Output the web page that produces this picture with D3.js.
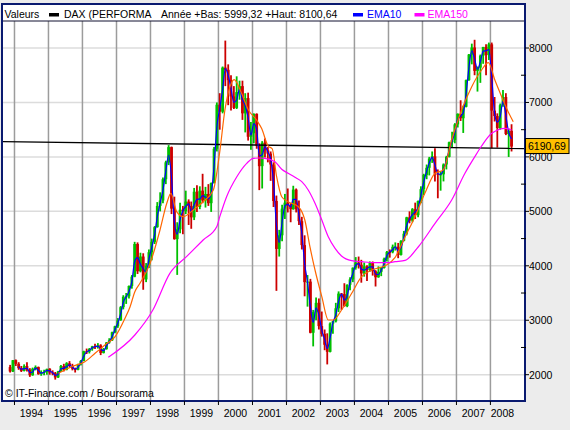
<!DOCTYPE html>
<html>
<head>
<meta charset="utf-8">
<script src="https://cdn.jsdelivr.net/npm/d3@7"></script>
<style>
  body { margin: 0; background: #ececec; }
  svg { display: block; font-family: Arial, "Liberation Sans", sans-serif; }
</style>
</head>
<body>
<div id="chart"></div>
<script>
// monthly bars, starting November 1993
var firstMonth = "1993-11";
var opens = [
    2140, 2060,
    2267, 2200, 2120, 2070, 2160, 2090, 1990, 2110, 2140, 2010, 2040, 2050,
    2107, 2040, 2030, 1950, 2060, 2160, 2090, 2210, 2160, 2110, 2090, 2190,
    2254, 2430, 2420, 2470, 2520, 2510, 2540, 2400, 2470, 2590, 2630, 2780,
    2889, 3000, 3240, 3430, 3440, 3630, 3800, 4400, 3900, 4170, 3750, 4000,
    4250, 4440, 4710, 5100, 5200, 5590, 5900, 6180, 5050, 4490, 4670, 5030,
    5002, 5180, 5100, 4890, 5360, 5080, 5380, 5200, 5320, 5150, 5520, 6150,
    6958, 6830, 7640, 7600, 7410, 7110, 6900, 7190, 7300, 6800, 7080, 6370,
    6434, 6790, 6210, 5830, 6260, 6120, 6060, 5860, 5190, 4310, 4560, 5050,
    5160, 5110, 5040, 5400, 5040, 4820, 4380, 3700, 3710, 2770, 3150, 3320,
    2893, 2750, 2550, 2420, 2940, 2980, 3220, 3490, 3480, 3260, 3650, 3750,
    3965, 4060, 4020, 3860, 3990, 3920, 4050, 3900, 3790, 3890, 3960, 4130,
    4256, 4250, 4350, 4350, 4200, 4460, 4590, 4890, 4830, 5040, 4930, 5190,
    5408, 5670, 5800, 5970, 6010, 5690, 5680, 5680, 5860, 6000, 6270, 6310,
    6597, 6790, 6710, 6920, 7410, 7880, 8010, 7580, 7640, 7860, 8020, 7870,
    8067, 6850, 6750, 6530, 6950, 7100, 6420, 6480
];
var highs = [
    2180, 2270,
    2280, 2230, 2160, 2190, 2230, 2120, 2130, 2170, 2150, 2080, 2090, 2110,
    2120, 2080, 2050, 2070, 2180, 2200, 2230, 2250, 2200, 2130, 2200, 2270,
    2440, 2480, 2490, 2530, 2570, 2580, 2560, 2490, 2600, 2670, 2790, 2900,
    3040, 3260, 3460, 3500, 3640, 3830, 4440, 4430, 4240, 4230, 4050, 4300,
    4500, 4730, 5170, 5350, 5620, 5930, 6217, 6190, 5270, 4800, 5160, 5100,
    5380, 5220, 5180, 5430, 5480, 5460, 5690, 5450, 5500, 5530, 6180, 7000,
    7170, 7660, 8136, 7700, 7500, 7300, 7480, 7400, 7400, 7170, 7180, 6640,
    6800, 6800, 6250, 6290, 6340, 6180, 6100, 5900, 5290, 4660, 5120, 5320,
    5420, 5150, 5470, 5420, 5200, 4900, 4560, 3830, 3760, 3190, 3420, 3400,
    3160, 2830, 2760, 2960, 2990, 3320, 3530, 3500, 3680, 3660, 3790, 3970,
    4160, 4170, 4110, 4060, 4010, 4080, 4080, 3920, 3990, 3980, 4150, 4270,
    4300, 4390, 4430, 4420, 4470, 4640, 4900, 5000, 5060, 5160, 5200, 5460,
    5690, 5860, 6000, 6100, 6160, 5770, 5740, 5880, 6020, 6280, 6460, 6620,
    6800, 7040, 6940, 7420, 7890, 8080, 8151, 7660, 7880, 8020, 8070, 8100,
    8100, 7100, 6800, 6980, 7230, 7170, 6520, 6600
];
var lows = [
    2040, 2050,
    2160, 2090, 2050, 2060, 2060, 1960, 1980, 2080, 2000, 1980, 1990, 2000,
    2000, 1990, 1910, 1940, 2050, 2060, 2080, 2130, 2080, 2040, 2080, 2170,
    2250, 2380, 2390, 2440, 2470, 2480, 2360, 2390, 2460, 2570, 2620, 2760,
    2860, 2990, 3200, 3300, 3400, 3580, 3790, 3850, 3880, 3560, 3700, 3960,
    4100, 4400, 4700, 5000, 5150, 5500, 5850, 4950, 4480, 3833, 4600, 4580,
    4950, 4750, 4680, 4840, 4990, 5040, 5150, 5070, 5100, 4990, 5510, 6100,
    6500, 6800, 7300, 6950, 6850, 6880, 6880, 7050, 6680, 6450, 6300, 6130,
    6250, 6150, 5390, 5420, 5990, 5900, 5560, 5080, 3540, 4170, 4450, 4860,
    4980, 4800, 5030, 4980, 4750, 4300, 3440, 3250, 2760, 2520, 3000, 2830,
    2700, 2450, 2189, 2410, 2750, 2960, 3150, 3190, 3250, 3240, 3550, 3700,
    3930, 3950, 3690, 3800, 3720, 3890, 3820, 3620, 3780, 3810, 3950, 4080,
    4150, 4230, 4280, 4140, 4190, 4450, 4560, 4780, 4800, 4860, 4890, 5150,
    5300, 5590, 5660, 5890, 5550, 5240, 5380, 5550, 5770, 5990, 6170, 6250,
    6540, 6660, 6440, 6910, 7400, 7700, 7500, 7200, 7360, 7710, 7500, 7780,
    6160, 6650, 6170, 6500, 6920, 6400, 5999, 6100
];
var closes = [
    2060, 2267,
    2200, 2120, 2070, 2160, 2090, 1990, 2110, 2140, 2010, 2040, 2050, 2107,
    2040, 2030, 1950, 2060, 2160, 2090, 2210, 2160, 2110, 2090, 2190, 2254,
    2430, 2420, 2470, 2520, 2510, 2540, 2400, 2470, 2590, 2630, 2780, 2889,
    3000, 3240, 3430, 3440, 3630, 3800, 4400, 3900, 4170, 3750, 4000, 4250,
    4440, 4710, 5100, 5200, 5590, 5900, 6180, 5050, 4490, 4670, 5030, 5002,
    5180, 5100, 4890, 5360, 5080, 5380, 5200, 5320, 5150, 5520, 6150, 6958,
    6830, 7640, 7600, 7410, 7110, 6900, 7190, 7300, 6800, 7080, 6370, 6434,
    6790, 6210, 5830, 6260, 6120, 6060, 5860, 5190, 4310, 4560, 5050, 5160,
    5110, 5040, 5400, 5040, 4820, 4380, 3700, 3710, 2770, 3150, 3320, 2893,
    2750, 2550, 2420, 2940, 2980, 3220, 3490, 3480, 3260, 3650, 3750, 3965,
    4060, 4020, 3860, 3990, 3920, 4050, 3900, 3790, 3890, 3960, 4130, 4256,
    4250, 4350, 4350, 4200, 4460, 4590, 4890, 4830, 5040, 4930, 5190, 5408,
    5670, 5800, 5970, 6010, 5690, 5680, 5680, 5860, 6000, 6270, 6310, 6597,
    6790, 6710, 6920, 7410, 7880, 8010, 7580, 7640, 7860, 8020, 7870, 8067,
    6850, 6750, 6530, 6950, 7100, 6420, 6480, 6190.69
];
// EMA10 read per month (same months as the bars)
var ema10 = [
    null, null,
    null, 2150, 2100, 2110, 2120, 2040, 2050, 2120, 2080, 2030, 2045, 2080,
    2070, 2035, 1990, 2010, 2110, 2120, 2150, 2180, 2135, 2100, 2140, 2220,
    2340, 2420, 2445, 2495, 2515, 2525, 2470, 2440, 2530, 2610, 2700, 2830,
    2950, 3120, 3330, 3430, 3530, 3710, 4080, 4150, 4030, 3950, 3880, 4120,
    4340, 4580, 4900, 5150, 5390, 5740, 6030, 5620, 4800, 4580, 4850, 5010,
    5090, 5140, 4990, 5120, 5220, 5230, 5290, 5260, 5230, 5330, 5830, 6550,
    6890, 7240, 7620, 7500, 7260, 7000, 7050, 7240, 7050, 6940, 6720, 6400,
    6610, 6500, 6020, 6040, 6190, 6090, 5960, 5530, 4750, 4430, 4800, 5100,
    5130, 5080, 5220, 5220, 4930, 4600, 4040, 3700, 3240, 2960, 3230, 3100,
    2820, 2650, 2480, 2680, 2960, 3100, 3350, 3480, 3370, 3450, 3700, 3860,
    4010, 4040, 3940, 3920, 3950, 3980, 3980, 3850, 3840, 3920, 4040, 4190,
    4250, 4300, 4350, 4280, 4330, 4520, 4740, 4860, 4940, 4990, 5060, 5300,
    5540, 5740, 5890, 5990, 5850, 5690, 5680, 5770, 5930, 6130, 6290, 6450,
    6690, 6750, 6810, 7160, 7640, 7950, 7800, 7610, 7750, 7940, 7950, 7970,
    7460, 6800, 6640, 6740, 7020, 6760, 6450, 6330
];
// slower orange average, read at decimal years
var orangeYears = [1995.29, 1995.68, 1996.07, 1996.37, 1996.66, 1996.96, 1997.25, 1997.40, 1997.54, 1997.69,
    1997.99, 1998.28, 1998.48, 1998.60, 1998.77, 1998.96, 1999.26, 1999.55, 1999.85, 2000.04,
    2000.19, 2000.34, 2000.46, 2000.68, 2000.88, 2001.12, 2001.27, 2001.46, 2001.58, 2001.71,
    2001.86, 2002.05, 2002.35, 2002.54, 2002.69, 2002.84, 2003.04, 2003.23, 2003.38, 2003.62,
    2003.92, 2004.21, 2004.51, 2004.90, 2005.19, 2005.49, 2005.78, 2006.07, 2006.37, 2006.61,
    2006.86, 2007.15, 2007.45, 2007.74, 2007.94, 2008.13, 2008.33, 2008.52, 2008.67];
var orangeValues = [2026, 2147, 2239, 2393, 2545, 2698, 3036, 3249, 3524, 3679,
    4046, 4658, 5148, 5331, 4994, 4902, 5025, 5177, 5392, 6100,
    6861, 7290, 7420, 7168, 6861, 6678, 6520, 6200, 6150, 5636,
    5269, 5177, 5085, 4841, 4351, 3923, 3433, 3005, 3005, 3188,
    3495, 3800, 3923, 4000, 4150, 4534, 4902, 5331, 5699, 5760,
    6310, 6861, 7290, 7596, 7730, 7412, 7106, 6830, 6647];
// EMA150 read at decimal years
var ema150Years = [1996.76, 1997.54, 1998.07, 1998.57, 1999.06, 1999.55, 1999.95, 2000.04, 2000.24, 2000.54,
    2000.83, 2001.02, 2001.22, 2001.37, 2001.66, 2001.86, 2002.05, 2002.25, 2002.45, 2002.64,
    2002.84, 2003.04, 2003.23, 2003.43, 2003.62, 2003.92, 2004.21, 2004.60, 2004.99, 2005.19,
    2005.49, 2005.88, 2006.37, 2006.86, 2007.25, 2007.54, 2007.74, 2008.04, 2008.43, 2008.62];
var ema150Values = [2320, 2729, 3188, 3862, 4168, 4474, 4718, 4902, 5269, 5636,
    5882, 5974, 5980, 5974, 5912, 5772, 5699, 5625, 5545, 5392,
    5148, 4841, 4534, 4321, 4180, 4094, 4075, 4057, 4057, 4075,
    4100, 4350, 4780, 5208, 5699, 6004, 6200, 6433, 6525, 6494];
// drawn black line
var lineYears = [1993.66, 2009.02];
var lineValues = [6279, 6154];

var yearLabels = d3.range(1994, 2009);
var priceTicks = d3.range(2000, 8001, 1000);
var minorTicks = d3.range(2500, 8001, 1000);
var lastClose = "6190,69";

// size of the picture
var vWidth = 570, vHeight = 430;
var plot = { left: 3, right: 525, top: 21, bottom: 401 };

function yearToDate(aYear) {
    var vY = Math.floor(aYear);
    var vStart = new Date(vY, 0, 1), vEnd = new Date(vY + 1, 0, 1);
    return new Date(+vStart + (aYear - vY) * (vEnd - vStart));
}

var svg = d3.select("#chart").append("svg")
    .attr("width", vWidth).attr("height", vHeight);

svg.append("rect").attr("width", vWidth).attr("height", vHeight).attr("fill", "#ececec");
svg.append("rect")
    .attr("x", 2).attr("y", 4).attr("width", 523).attr("height", 397)
    .attr("fill", "#fff");

var x = d3.scaleTime()
    .domain([yearToDate(1993.662), yearToDate(2009.015)])
    .range([plot.left, plot.right]);
var y = d3.scaleLinear()
    .domain([1517, 8496])
    .range([plot.bottom, plot.top]);

var bars = closes.map(function (c, i) {
    var vMonth = d3.timeMonth.offset(d3.timeParse("%Y-%m")(firstMonth), i);
    return {
        date: d3.timeDay.offset(vMonth, 14),
        open: opens[i], high: highs[i], low: lows[i], close: c, ema: ema10[i]
    };
});

svg.append("clipPath").attr("id", "plotclip")
    .append("rect")
    .attr("x", plot.left).attr("y", plot.top)
    .attr("width", plot.right - plot.left).attr("height", plot.bottom - plot.top);

var g = svg.append("g").attr("clip-path", "url(#plotclip)");

// horizontal grid
g.selectAll(".hgrid").data(priceTicks).enter().append("line")
    .attr("x1", plot.left).attr("x2", plot.right)
    .attr("y1", function (d) { return y(d); }).attr("y2", function (d) { return y(d); })
    .attr("stroke", "#dcdcdc").attr("stroke-width", 1.5);

// vertical grid at each new year
var yearStarts = yearLabels.map(function (d) { return new Date(d, 0, 1); });
g.selectAll(".vgrid").data(yearStarts).enter().append("line")
    .attr("x1", function (d) { return x(d); }).attr("x2", function (d) { return x(d); })
    .attr("y1", plot.top).attr("y2", plot.bottom)
    .attr("stroke", "#9c9c9c").attr("stroke-width", 1.5);

// candles
var green = "#00c000", red = "#cc0000";
var candle = g.selectAll(".candle").data(bars).enter().append("g");
candle.append("line")
    .attr("x1", function (d) { return x(d.date); }).attr("x2", function (d) { return x(d.date); })
    .attr("y1", function (d) { return y(d.high); }).attr("y2", function (d) { return y(d.low); })
    .attr("stroke", function (d) { return d.close >= d.open ? green : red; })
    .attr("stroke-width", 1.8);
candle.append("rect")
    .attr("x", function (d) { return x(d.date) - 1.4; })
    .attr("width", 2.8)
    .attr("y", function (d) { return y(Math.max(d.open, d.close)); })
    .attr("height", function (d) { return Math.max(1, Math.abs(y(d.open) - y(d.close))); })
    .attr("fill", function (d) { return d.close >= d.open ? green : red; });

// black line
g.append("path")
    .datum(lineYears.map(function (d, i) { return [yearToDate(d), lineValues[i]]; }))
    .attr("fill", "none").attr("stroke", "#000").attr("stroke-width", 1.3)
    .attr("d", d3.line().x(function (d) { return x(d[0]); }).y(function (d) { return y(d[1]); }));

// moving averages
var vLine = d3.line()
    .curve(d3.curveMonotoneX)
    .x(function (d) { return x(d[0]); })
    .y(function (d) { return y(d[1]); });

g.append("path")
    .datum(bars.filter(function (d) { return d.ema !== null; }).map(function (d) { return [d.date, d.ema]; }))
    .attr("fill", "none").attr("stroke", "#0000ff").attr("stroke-width", 1.2)
    .attr("d", vLine);
g.append("path")
    .datum(orangeYears.map(function (d, i) { return [yearToDate(d), orangeValues[i]]; }))
    .attr("fill", "none").attr("stroke", "#ff6600").attr("stroke-width", 1.2)
    .attr("d", vLine);
g.append("path")
    .datum(ema150Years.map(function (d, i) { return [yearToDate(d), ema150Values[i]]; }))
    .attr("fill", "none").attr("stroke", "#ff00ff").attr("stroke-width", 1.2)
    .attr("d", vLine);

// copyright
svg.append("text")
    .attr("x", 5).attr("y", 397)
    .attr("font-size", "10.5px").attr("fill", "#000")
    .text("\u00a9 IT-Finance.com / Boursorama");

// frame and legend bar
svg.append("line")
    .attr("x1", 2).attr("x2", 525).attr("y1", 21).attr("y2", 21)
    .attr("stroke", "#101030").attr("stroke-width", 1);
svg.append("rect")
    .attr("x", 2).attr("y", 4).attr("width", 523).attr("height", 397)
    .attr("fill", "none").attr("stroke", "#0a1a70").attr("stroke-width", 2);

var legend = svg.append("g").attr("font-size", "10.5px");
legend.append("text").attr("x", 4.5).attr("y", 18).text("Valeurs");
legend.append("rect").attr("x", 49).attr("y", 13).attr("width", 10).attr("height", 3.5).attr("fill", "#000");
legend.append("text").attr("x", 64).attr("y", 18).text("DAX (PERFORMA");
legend.append("text").attr("x", 161).attr("y", 18).text("Ann\u00e9e +Bas: 5999,32 +Haut: 8100,64");
legend.append("rect").attr("x", 353).attr("y", 13).attr("width", 10).attr("height", 3.5).attr("fill", "#0000ff");
legend.append("text").attr("x", 367).attr("y", 18).attr("fill", "#0000ff").text("EMA10");
legend.append("rect").attr("x", 414.5).attr("y", 13).attr("width", 10).attr("height", 3.5).attr("fill", "#ff00ff");
legend.append("text").attr("x", 427.6).attr("y", 18).attr("fill", "#ff00ff").text("EMA150");

// right axis
var rightAxis = svg.append("g").attr("font-size", "10.5px");
rightAxis.selectAll(".major").data(priceTicks).enter().append("line")
    .attr("x1", 525).attr("x2", 529)
    .attr("y1", function (d) { return y(d); }).attr("y2", function (d) { return y(d); })
    .attr("stroke", "#000");
rightAxis.selectAll(".minor").data(minorTicks).enter().append("line")
    .attr("x1", 521).attr("x2", 526)
    .attr("y1", function (d) { return y(d); }).attr("y2", function (d) { return y(d); })
    .attr("stroke", "#000");
rightAxis.selectAll("text").data(priceTicks).enter().append("text")
    .attr("x", 529).attr("y", function (d) { return y(d) + 4; })
    .text(function (d) { return d; });

// last price box
var vLastY = y(closes[closes.length - 1]);
svg.append("rect")
    .attr("x", 525.5).attr("y", vLastY - 8).attr("width", 43.5).attr("height", 15)
    .attr("fill", "#ffc000").attr("stroke", "#000");
svg.append("text")
    .attr("x", 528).attr("y", vLastY + 3.5).attr("font-size", "10.5px")
    .text(lastClose);

// bottom axis: ticks at year starts, labels centred in each year of data
var vDataEnd = d3.timeMonth.offset(bars[bars.length - 1].date, 1);
var bottom = svg.append("g").attr("font-size", "10.5px");
bottom.selectAll("line").data(yearStarts).enter().append("line")
    .attr("x1", function (d) { return x(d); }).attr("x2", function (d) { return x(d); })
    .attr("y1", 401).attr("y2", 405)
    .attr("stroke", "#000");
bottom.selectAll("text").data(yearLabels).enter().append("text")
    .attr("text-anchor", "middle")
    .attr("x", function (d) {
        var vEnd = new Date(d + 1, 0, 1);
        if (vEnd > vDataEnd) vEnd = vDataEnd;
        return (x(new Date(d, 0, 1)) + x(vEnd)) / 2;
    })
    .attr("y", 417)
    .text(function (d) { return d; });
</script>
</body>
</html>
